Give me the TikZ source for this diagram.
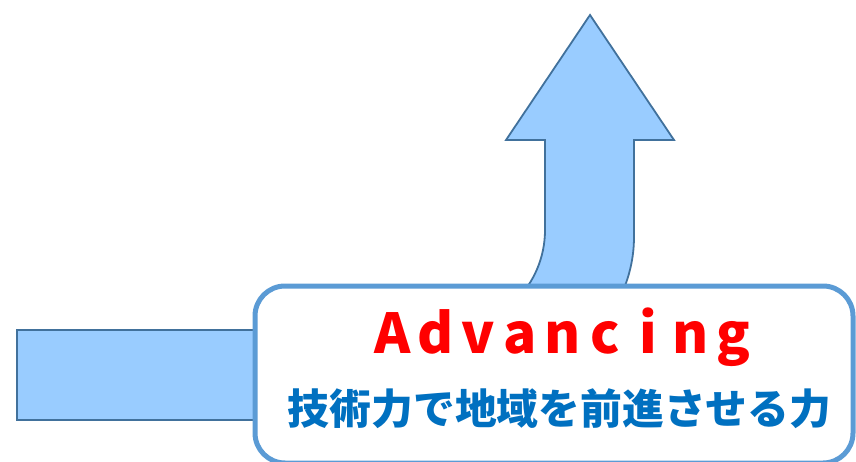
\documentclass[tikz,border=0pt]{standalone}
\usepackage{fontspec}
\newfontfamily\jp{Noto Sans CJK JP}
\definecolor{arrowfill}{HTML}{99CCFF}
\definecolor{arrowline}{HTML}{41719C}
\definecolor{boxline}{HTML}{5B9BD5}
\definecolor{jpblue}{HTML}{0070C0}
\definecolor{advred}{HTML}{FF0000}
\newcommand{\cellch}[1]{\makebox[42.5pt][c]{#1}}
\begin{document}
\begin{tikzpicture}[x=1pt,y=-1pt,
  arrowshape/.style={fill=arrowfill,draw=arrowline,line width=1.8pt,line join=miter},
  labelbox/.style={draw=boxline,fill=white,line width=5pt,rounded corners=30pt},
  titletext/.style={inner sep=0pt,anchor=base,text=advred,font={\jp\bfseries\fontsize{55}{60}\selectfont}},
  subtext/.style={inner sep=0pt,anchor=base,text=jpblue,font={\jp\bfseries\fontsize{41.8}{46}\selectfont}}]
\useasboundingbox (0,0) rectangle (856,462);
% bent arrow
\draw[arrowshape] (17,330) -- (445,330) .. controls (500.2,330) and (545,285.2) .. (545,230)
  -- (545,140) -- (506,140) -- (590,15) -- (674,140) -- (634,140) -- (634,237)
  .. controls (634,338) and (522,420) .. (384,420) -- (17,420) -- cycle;
% label box
\draw[labelbox] (255,286) rectangle (853,463);
\node[titletext] (title) at (563,353) {\cellch{A}\cellch{d}\cellch{v}\cellch{a}\cellch{n}\cellch{c}\cellch{i}\cellch{n}\cellch{g}};
\node[subtext] (sub) at (559.5,424) {技術力で地域を前進させる力};
\end{tikzpicture}
\end{document}
